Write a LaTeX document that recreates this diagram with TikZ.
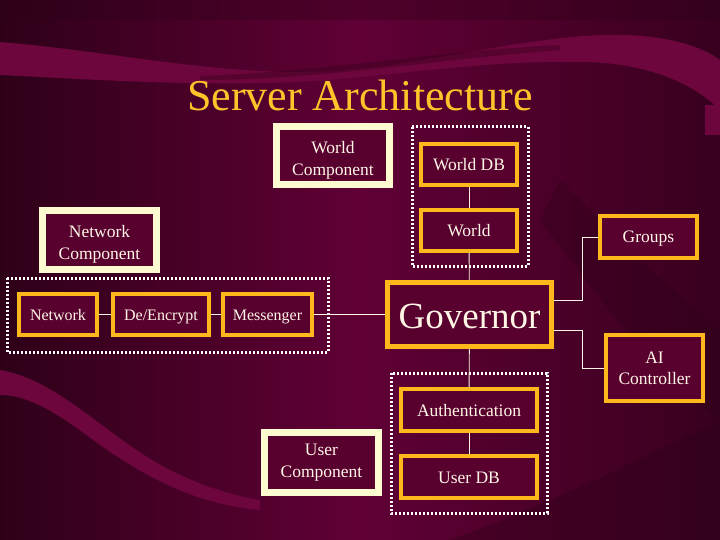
\documentclass[tikz,border=0pt]{standalone}
\usepackage{fontspec}
\setmainfont{Liberation Serif}
\definecolor{bgmid}{HTML}{600035}
\definecolor{bgdark}{HTML}{2E0018}
\definecolor{bgband}{HTML}{6C063C}
\definecolor{boxfill}{HTML}{58002E}
\definecolor{orangeb}{HTML}{FFB81C}
\definecolor{creamb}{HTML}{FFFBD0}
\definecolor{txt}{HTML}{FFF6E6}
\definecolor{titlec}{HTML}{FFC42A}
\newcommand{\lowerstrut}{\rule{0pt}{21pt}}
\tikzset{
  obox/.style={draw=orangeb, line width=4pt, fill=boxfill, text=txt, inner sep=0pt, font=\fontsize{17.5}{21}\selectfont, align=center},
  oline/.style={text height=15pt, text depth=3pt},
  cbox/.style={draw=creamb, line width=7pt, fill=boxfill, text=txt, inner sep=0pt, font=\fontsize{17.5}{22}\selectfont, align=center},
  grp/.style={draw=white, line width=3pt, dash pattern=on 2pt off 2pt},
  conn/.style={draw=txt, line width=0.9pt},
}
\begin{document}
\begin{tikzpicture}[x=1pt,y=-1pt]
\useasboundingbox (0,0) rectangle (720,540);
% background
\shade[left color=bgdark, right color=bgmid] (0,0) rectangle (360,540);
\shade[left color=bgmid, right color=bgdark!80!bgmid] (360,0) rectangle (720,540);
\fill[bgdark, opacity=0.35] (0,0) rectangle (720,20);
\fill[bgband] (0,42) .. controls (100,50) and (200,72) .. (300,72) .. controls (400,72) and (500,40) .. (600,35) .. controls (660,33) and (700,45) .. (720,60) -- (720,110) .. controls (690,80) and (640,62) .. (580,62) .. controls (500,60) and (420,72) .. (330,80) .. controls (220,88) and (100,80) .. (0,75) -- cycle;
\fill[bgdark, opacity=0.35] (200,76) .. controls (320,72) and (430,52) .. (560,45) -- (560,50) .. controls (430,60) and (320,80) .. (200,80) -- cycle;
\fill[bgband] (0,370) .. controls (60,380) and (110,440) .. (170,470) .. controls (200,485) and (230,495) .. (260,500) -- (260,510) .. controls (200,505) and (150,480) .. (100,445) .. controls (60,415) and (30,395) .. (0,395) -- cycle;
\fill[bgdark, opacity=0.35] (560,180) .. controls (620,240) and (680,300) .. (720,330) -- (720,420) .. controls (660,380) and (600,300) .. (540,220) -- cycle;
\fill[bgdark, opacity=0.4] (450,540) .. controls (560,500) and (660,450) .. (720,420) -- (720,540) -- cycle;
\fill[bgband] (705,105) rectangle (720,135);
% title
\node[text=titlec, font=\fontsize{44}{50}\selectfont] (title) at (360,95) {Server Architecture};
% groups
\draw[grp] (412,127) rectangle (528,266);
\draw[grp] (7,278) rectangle (328,352);
\draw[grp] (391,373) rectangle (547,513);
% cream component boxes
\node[cbox, minimum width=113pt, minimum height=58pt] (worldcomp) at (333,155.5) {\lowerstrut World\\Component};
\node[cbox, minimum width=114pt, minimum height=59pt] (netcomp) at (99.5,240) {\lowerstrut Network\\Component};
\node[cbox, minimum width=114pt, minimum height=60pt] (usercomp) at (321.5,462.5) {User\\Component};
% orange boxes
\node[obox, oline, minimum width=96pt, minimum height=41pt] (worlddb) at (469,164.5) {World DB};
\node[obox, oline, minimum width=96pt, minimum height=41pt] (world) at (469,230.5) {World};
\node[obox, oline, minimum width=97pt, minimum height=42pt] (groups) at (648.5,237) {Groups};
\node[obox, line width=5.5pt, minimum width=164pt, minimum height=64pt, font=\fontsize{37}{40}\selectfont, text height=30pt, text depth=3pt] (governor) at (469.5,314.5) {Governor};
\node[obox, minimum width=97pt, minimum height=66pt] (ai) at (654.5,368) {AI\\Controller};
\node[obox, oline, minimum width=136pt, minimum height=42pt] (auth) at (469,410) {Authentication};
\node[obox, oline, minimum width=136pt, minimum height=42pt] (userdb) at (469,477) {User DB};
\node[obox, oline, minimum width=78pt, minimum height=41pt, font=\fontsize{16}{18}\selectfont] (network) at (58,314.5) {Network};
\node[obox, oline, minimum width=96pt, minimum height=41pt, font=\fontsize{16}{18}\selectfont] (deenc) at (161,314.5) {De/Encrypt};
\node[obox, oline, minimum width=89pt, minimum height=41pt, font=\fontsize{16}{18}\selectfont] (messenger) at (267.5,314.5) {Messenger};
% connectors
\coordinate (jx) at (582,0);
\draw[conn] (worlddb) -- (world);
\draw[conn] (world) -- (governor);
\draw[conn] (network) -- (deenc);
\draw[conn] (deenc) -- (messenger);
\draw[conn] (messenger) -- (governor);
\draw[conn] ([yshift=14.5pt]governor.east) -| (jx |- groups.west) -- (groups.west);
\draw[conn] ([yshift=-15.5pt]governor.east) -| (jx |- ai.west) -- (ai.west);
\draw[conn] (governor) -- (auth);
\draw[conn] (auth) -- (userdb);
\end{tikzpicture}
\end{document}
